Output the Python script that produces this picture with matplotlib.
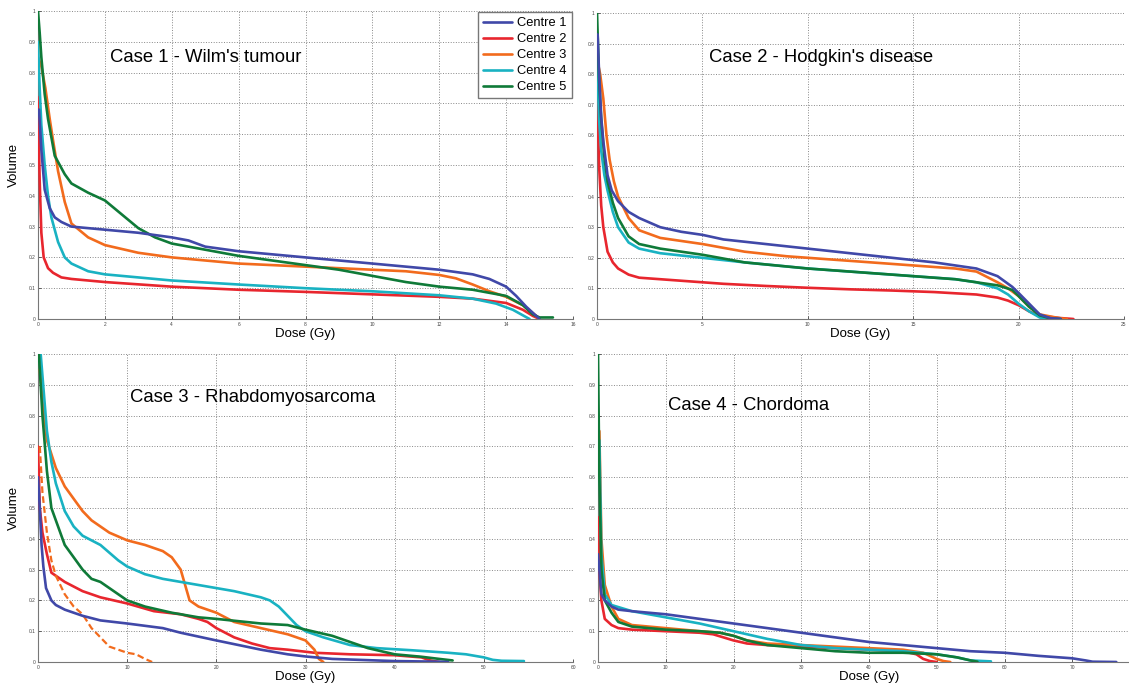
import matplotlib
matplotlib.use("Agg")
import matplotlib.pyplot as plt
import numpy as np

plt.rcParams["font.family"] = ["Liberation Sans", "DejaVu Sans"]

# ---- data: (dose Gy, volume fraction) ----
CENTRES = ["Centre 1", "Centre 2", "Centre 3", "Centre 4", "Centre 5"]
COLORS = ["#4048a8", "#e8262e", "#f26b1d", "#19b2c2", "#0f7a38"]

case1_c1 = [(0.03, 0.68), (0.1, 0.55), (0.2, 0.42), (0.35, 0.36), (0.5, 0.33), (0.7, 0.315),
            (1, 0.30), (2, 0.29), (3, 0.28), (4, 0.265), (4.5, 0.255), (5, 0.235), (6, 0.22),
            (7, 0.21), (8, 0.20), (9, 0.19), (10, 0.18), (11, 0.17), (12, 0.16), (13, 0.145),
            (13.5, 0.13), (14, 0.105), (14.3, 0.075), (14.6, 0.04), (14.9, 0.01), (15.0, 0.0)]
case1_c2 = [(0.0, 0.72), (0.05, 0.45), (0.1, 0.28), (0.17, 0.2), (0.3, 0.165), (0.45, 0.15),
            (0.7, 0.135), (1, 0.13), (2, 0.12), (4, 0.105), (6, 0.095), (8, 0.088), (10, 0.08),
            (12, 0.072), (13, 0.066), (14, 0.052), (14.5, 0.03), (14.8, 0.01), (15.0, 0.0)]
case1_c3 = [(0.0, 0.85), (0.1, 0.82), (0.22, 0.75), (0.35, 0.65), (0.45, 0.58), (0.6, 0.48),
            (0.8, 0.38), (1, 0.31), (1.5, 0.265), (2, 0.24), (3, 0.215), (4, 0.20), (5, 0.19),
            (6, 0.18), (8, 0.17), (10, 0.16), (11, 0.155), (12, 0.143), (12.5, 0.132),
            (13, 0.112), (13.5, 0.09), (14, 0.072), (14.5, 0.045), (14.9, 0.01), (15.0, 0.0)]
case1_c4 = [(0.0, 0.9), (0.05, 0.75), (0.1, 0.63), (0.2, 0.5), (0.3, 0.4), (0.4, 0.33),
            (0.6, 0.25), (0.8, 0.2), (1, 0.18), (1.5, 0.155), (2, 0.145), (3, 0.135),
            (4, 0.125), (6, 0.112), (8, 0.10), (10, 0.09), (12, 0.077), (13, 0.066),
            (13.7, 0.05), (14.2, 0.03), (14.5, 0.012), (14.7, 0.0)]
case1_c5 = [(0.0, 1.0), (0.05, 0.93), (0.1, 0.85), (0.2, 0.73), (0.3, 0.65), (0.5, 0.53),
            (0.8, 0.47), (1, 0.44), (1.5, 0.41), (2, 0.385), (2.5, 0.34), (3, 0.295),
            (3.5, 0.265), (4, 0.245), (5, 0.225), (6, 0.205), (7, 0.19), (8, 0.175),
            (9, 0.16), (10, 0.14), (11, 0.12), (12, 0.105), (13, 0.095), (14, 0.075),
            (14.5, 0.045), (14.8, 0.015), (15.0, 0.005), (15.4, 0.005)]

case2_c1 = [(0.03, 0.93), (0.1, 0.8), (0.2, 0.66), (0.3, 0.58), (0.5, 0.47), (0.7, 0.42),
            (1, 0.385), (1.5, 0.35), (2, 0.33), (3, 0.30), (4, 0.285), (5, 0.275), (6, 0.26),
            (8, 0.245), (10, 0.23), (12, 0.215), (14, 0.20), (16, 0.185), (18, 0.165),
            (19, 0.14), (19.7, 0.105), (20, 0.085), (20.5, 0.05), (21, 0.015), (21.5, 0.003),
            (22, 0.0)]
case2_c2 = [(0.0, 0.75), (0.05, 0.62), (0.1, 0.5), (0.2, 0.37), (0.3, 0.3), (0.5, 0.22),
            (0.75, 0.185), (1, 0.165), (1.5, 0.145), (2, 0.135), (4, 0.125), (6, 0.115),
            (8, 0.108), (10, 0.102), (12, 0.097), (14, 0.093), (16, 0.088), (18, 0.08),
            (19, 0.07), (19.5, 0.06), (20, 0.045), (20.5, 0.025), (21, 0.01), (22, 0.003),
            (22.6, 0.0)]
case2_c3 = [(0.0, 0.85), (0.15, 0.8), (0.3, 0.72), (0.45, 0.6), (0.6, 0.52), (0.8, 0.45),
            (1, 0.40), (1.5, 0.33), (2, 0.29), (3, 0.265), (5, 0.245), (7, 0.22), (9, 0.205),
            (11, 0.195), (13, 0.185), (15, 0.175), (17, 0.165), (18, 0.155), (19, 0.12),
            (19.5, 0.1), (20, 0.075), (20.5, 0.04), (21, 0.015), (22, 0.002), (22.3, 0.0)]
case2_c4 = [(0.0, 0.85), (0.1, 0.65), (0.2, 0.55), (0.35, 0.47), (0.5, 0.42), (0.75, 0.35),
            (1, 0.30), (1.5, 0.25), (2, 0.23), (3, 0.215), (5, 0.20), (7, 0.185), (10, 0.165),
            (13, 0.15), (15, 0.14), (17, 0.13), (18, 0.12), (19, 0.1), (19.5, 0.08),
            (20, 0.05), (20.5, 0.025), (21, 0.005), (21.3, 0.0)]
case2_c5 = [(0.0, 1.0), (0.1, 0.78), (0.2, 0.65), (0.35, 0.53), (0.5, 0.45), (0.75, 0.38),
            (1, 0.33), (1.5, 0.27), (2, 0.245), (3, 0.23), (5, 0.21), (7, 0.185), (10, 0.165),
            (13, 0.15), (15, 0.14), (17, 0.13), (19, 0.11), (19.7, 0.095), (20, 0.075),
            (20.5, 0.04), (21, 0.012), (21.5, 0.002), (22, 0.0)]

case3_c1 = [(0.0, 0.6), (0.2, 0.5), (0.4, 0.38), (0.6, 0.31), (0.9, 0.24), (1.5, 0.2),
            (2, 0.185), (3, 0.17), (5, 0.15), (7, 0.135), (10, 0.125), (14, 0.11), (16, 0.095),
            (20, 0.07), (25, 0.04), (28, 0.025), (30, 0.018), (33, 0.01), (40, 0.003),
            (45, 0.001), (46, 0.0)]
case3_c2 = [(0.0, 0.7), (0.2, 0.5), (0.5, 0.42), (1, 0.35), (1.5, 0.29), (2, 0.28), (3, 0.26),
            (5, 0.23), (7, 0.21), (10, 0.19), (13, 0.165), (16, 0.155), (18, 0.14), (19, 0.13),
            (20, 0.11), (22, 0.08), (24, 0.06), (26, 0.045), (28, 0.04), (31, 0.03),
            (35, 0.025), (40, 0.022), (43, 0.015), (44, 0.005), (45, 0.0)]
case3_c3 = [(0.2, 0.95), (0.5, 0.85), (1, 0.72), (2, 0.63), (3, 0.57), (4, 0.53), (5, 0.49),
            (6, 0.46), (8, 0.42), (10, 0.395), (12, 0.38), (14, 0.36), (15, 0.34), (16, 0.30),
            (16.5, 0.25), (17, 0.2), (18, 0.18), (20, 0.16), (22, 0.13), (25, 0.11),
            (28, 0.09), (30, 0.07), (31, 0.04), (31.5, 0.01), (32, 0.0)]
case3_c3_dashed = [(0.2, 0.7), (0.5, 0.55), (1, 0.42), (1.5, 0.33), (2, 0.28), (3, 0.22),
                   (4, 0.18), (5, 0.155), (6, 0.11), (7, 0.08), (8, 0.05), (10, 0.03),
                   (11, 0.025), (12, 0.01), (12.8, 0.0)]
case3_c4 = [(0.3, 1.0), (1, 0.75), (1.5, 0.65), (2, 0.58), (3, 0.49), (4, 0.44), (5, 0.41),
            (7, 0.38), (9, 0.33), (10, 0.31), (12, 0.285), (14, 0.27), (16, 0.26), (18, 0.25),
            (20, 0.24), (22, 0.23), (25, 0.21), (26, 0.2), (27, 0.18), (28, 0.15), (29, 0.12),
            (30, 0.1), (32, 0.08), (35, 0.055), (38, 0.045), (42, 0.038), (46, 0.03),
            (48, 0.025), (50, 0.015), (51, 0.007), (52, 0.004), (54.5, 0.003)]
case3_c5 = [(0.1, 1.0), (0.5, 0.8), (1, 0.62), (1.5, 0.5), (2, 0.46), (3, 0.38), (4, 0.34),
            (5, 0.30), (6, 0.27), (7, 0.26), (8, 0.24), (10, 0.2), (12, 0.18), (15, 0.16),
            (18, 0.145), (20, 0.14), (25, 0.125), (28, 0.12), (30, 0.105), (33, 0.085),
            (35, 0.065), (37, 0.045), (40, 0.025), (43, 0.017), (45, 0.01), (46.5, 0.005)]

case4_c1 = [(0.0, 0.35), (0.2, 0.3), (0.5, 0.22), (1, 0.2), (2, 0.18), (3, 0.17), (5, 0.165),
            (10, 0.155), (15, 0.14), (20, 0.125), (25, 0.11), (30, 0.095), (35, 0.08),
            (40, 0.065), (45, 0.055), (50, 0.045), (55, 0.035), (60, 0.03), (65, 0.02),
            (70, 0.012), (72, 0.005), (73, 0.001), (76.5, 0.0)]
case4_c2 = [(0.0, 0.47), (0.2, 0.3), (0.5, 0.2), (1, 0.14), (2, 0.12), (3, 0.11), (5, 0.105),
            (10, 0.1), (15, 0.095), (17, 0.09), (20, 0.07), (22, 0.06), (25, 0.055), (30, 0.05),
            (35, 0.045), (40, 0.04), (45, 0.035), (47, 0.025), (48, 0.01), (49, 0.003),
            (50, 0.0)]
case4_c3 = [(0.2, 0.75), (0.5, 0.4), (1, 0.25), (2, 0.18), (3, 0.14), (5, 0.12), (10, 0.11),
            (15, 0.1), (18, 0.095), (20, 0.085), (22, 0.07), (25, 0.06), (30, 0.055),
            (35, 0.05), (40, 0.045), (45, 0.04), (48, 0.03), (50, 0.01), (51, 0.003),
            (52, 0.0)]
case4_c4 = [(0.2, 0.72), (0.5, 0.35), (1, 0.22), (2, 0.185), (5, 0.165), (10, 0.145),
            (15, 0.125), (20, 0.1), (25, 0.075), (30, 0.055), (35, 0.045), (40, 0.04),
            (45, 0.035), (50, 0.025), (53, 0.015), (55, 0.005), (58, 0.002)]
case4_c5 = [(0.0, 1.0), (0.2, 0.6), (0.5, 0.3), (1, 0.2), (2, 0.16), (3, 0.13), (5, 0.115),
            (10, 0.105), (15, 0.1), (18, 0.095), (20, 0.085), (22, 0.07), (25, 0.055),
            (30, 0.045), (35, 0.035), (40, 0.03), (45, 0.03), (50, 0.025), (53, 0.015),
            (55, 0.005), (56, 0.001)]

case_titles = ["Case 1 - Wilm's tumour", "Case 2 - Hodgkin's disease",
               "Case 3 - Rhabdomyosarcoma", "Case 4 - Chordoma"]
case_curves = [
    [case1_c1, case1_c2, case1_c3, case1_c4, case1_c5],
    [case2_c1, case2_c2, case2_c3, case2_c4, case2_c5],
    [case3_c1, case3_c2, case3_c3, case3_c4, case3_c5],
    [case4_c1, case4_c2, case4_c3, case4_c4, case4_c5],
]
case_xmax = [16, 25, 60, 80]
case_xstep = [2, 5, 10, 10]
case_xlast = [16, 25, 60, 70]   # last labelled tick (80 falls off the page)

W, H = 1129, 687
# axes boxes in pixels: left, right, top, bottom
BOXES = [(38, 573, 11, 319), (597, 1124, 13, 319),
         (38, 573, 354, 662), (598, 1140, 354, 662)]
TITLE_POS = [(0.135, 0.85), (0.212, 0.853), (0.172, 0.86), (0.129, 0.834)]

fig = plt.figure(figsize=(W / 100, H / 100), dpi=100)

for k in range(4):
    l, r, t, b = BOXES[k]
    ax = fig.add_axes([l / W, 1 - b / H, (r - l) / W, (b - t) / H])
    for j, pts in enumerate(case_curves[k]):
        d = np.array(pts)
        ax.plot(d[:, 0], d[:, 1], color=COLORS[j], lw=1.9, label=CENTRES[j],
                solid_capstyle="round", zorder=3 + (j == 0))
    if k == 2:
        d = np.array(case3_c3_dashed)
        ax.plot(d[:, 0], d[:, 1], color=COLORS[2], lw=1.6, ls=(0, (3, 1.5)), zorder=3)
    ax.set_xlim(0, case_xmax[k])
    ax.set_ylim(0, 1)
    xt = np.arange(0, case_xlast[k] + 0.1, case_xstep[k])
    ax.set_xticks(xt)
    ax.set_xticklabels([str(int(v)) for v in xt])
    yt = np.round(np.arange(0, 1.01, 0.1), 1)
    ax.set_yticks(yt)
    ax.set_yticklabels(["0"] + ["%.1f" % v for v in yt[1:-1]] + ["1"])
    ax.tick_params(labelsize=3.5, length=2, width=0.6, direction="in", pad=2,
                   colors="#444444")
    ax.grid(True, ls=":", color="#888888", lw=0.7)
    if k == 3:
        ax.axvline(80, ls=":", color="#888888", lw=0.7)
    for s in ("top", "right"):
        ax.spines[s].set_visible(False)
    for s in ("left", "bottom"):
        ax.spines[s].set_color("#777777")
        ax.spines[s].set_linewidth(0.8)
    ax.set_xlabel("Dose (Gy)", fontsize=9.5, labelpad=1)
    if k in (0, 2):
        ax.set_ylabel("Volume", fontsize=9.5, labelpad=6)
    ax.text(TITLE_POS[k][0], TITLE_POS[k][1], case_titles[k], transform=ax.transAxes,
            fontsize=13.3, va="center", ha="left")
    if k == 0:
        leg = ax.legend(loc="upper right", fontsize=9.3, handlelength=2.2,
                        handletextpad=0.4, labelspacing=0.3, borderpad=0.4,
                        fancybox=False, framealpha=1, borderaxespad=0.1)
        leg.get_frame().set_edgecolor("#777777")
        leg.get_frame().set_linewidth(1.0)

fig.savefig("out.png", dpi=100)
